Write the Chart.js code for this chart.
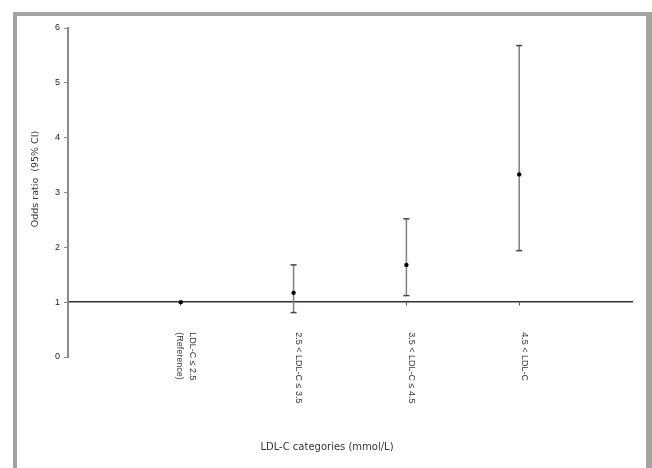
<!DOCTYPE html>
<html>
<head>
<meta charset="utf-8">
<script src="https://cdn.jsdelivr.net/npm/chart.js@4"></script>
<style>
html,body{margin:0;padding:0;background:#fff;}
#wrap{position:absolute;left:0;top:0;width:652px;height:468px;overflow:hidden;}
#frame{position:absolute;left:13px;top:12px;width:629px;height:470px;border:4px solid #a3a3a3;border-bottom:none;border-right-width:6px;}
canvas{position:absolute;left:0;top:0;}
</style>
</head>
<body>
<div id="wrap">
<div id="frame"></div>
<canvas id="c" width="652" height="468"></canvas>
</div>
<script>
const categories = ["LDL-C \u2264 2.5|(Reference)", "2.5 < LDL-C \u2264 3.5", "3.5 < LDL-C \u2264 4.5", "4.5 < LDL-C"];
const oddsRatio = [1.0, 1.17, 1.68, 3.33];
const ciLower = [1.0, 0.81, 1.12, 1.94];
const ciUpper = [1.0, 1.68, 2.52, 5.68];
const yTicks = [0, 1, 2, 3, 4, 5, 6];
const yTitle = 'Odds ratio  (95% CI)';
const xTitle = 'LDL-C categories (mmol/L)';

const whiskerSets = categories.map((c, i) => ({
  type: 'line',
  data: [{x: i + 1, y: ciLower[i]}, {x: i + 1, y: ciUpper[i]}],
  borderColor: '#808080',
  borderWidth: 1.5,
  pointRadius: 0,
  showLine: true,
  order: 3
}));

const capSet = {
  type: 'scatter',
  data: categories.flatMap((c, i) => ciLower[i] === ciUpper[i] ? [] : [{x: i + 1, y: ciLower[i]}, {x: i + 1, y: ciUpper[i]}]),
  pointStyle: 'line',
  pointRadius: 3,
  borderColor: '#444',
  borderWidth: 1.5,
  order: 2
};

const pointSet = {
  type: 'scatter',
  data: categories.map((c, i) => ({x: i + 1, y: oddsRatio[i]})),
  pointStyle: 'circle',
  pointRadius: 2.2,
  backgroundColor: '#000',
  borderColor: '#000',
  borderWidth: 0,
  order: 1
};

const textPlugin = {
  id: 'texts',
  afterDraw(chart) {
    const ctx = chart.ctx;
    const xs = chart.scales.x, ys = chart.scales.y;
    const y0 = ys.getPixelForValue(1);
    ctx.save();
    ctx.fillStyle = '#333';
    ctx.font = '9px "Liberation Sans", Arial, sans-serif';
    ctx.textBaseline = 'middle';
    ctx.textAlign = 'left';
    categories.forEach((c, i) => {
      const parts = c.split('|');
      const px = xs.getPixelForValue(i + 1) + 5;
      const lh = 13;
      const n = parts.length;
      parts.forEach((p, k) => {
        ctx.save();
        ctx.translate(px + (n - 1) * lh / 2 - k * lh, y0 + 30);
        ctx.rotate(Math.PI / 2);
        ctx.fillText(p, 0, 0);
        ctx.restore();
      });
    });
    ctx.font = '10px "DejaVu Sans", sans-serif';
    ctx.textAlign = 'center';
    ctx.fillText(xTitle, 327, 447);
    ctx.save();
    ctx.font = '9.5px "DejaVu Sans", sans-serif';
    ctx.translate(36, 179);
    ctx.rotate(-Math.PI / 2);
    ctx.fillText(yTitle, 0, 0);
    ctx.restore();
    ctx.restore();
  }
};

new Chart(document.getElementById('c'), {
  data: { datasets: [...whiskerSets, capSet, pointSet] },
  options: {
    responsive: false,
    animation: false,
    devicePixelRatio: 1,
    layout: { padding: { left: 30, right: 20, top: 28, bottom: 111 } },
    plugins: { legend: { display: false }, tooltip: { enabled: false } },
    scales: {
      x: {
        type: 'linear',
        min: 0, max: 5,
        position: { y: 1 },
        afterBuildTicks(s) { s.ticks = categories.map((c, i) => ({value: i + 1})); },
        grid: { display: true, drawOnChartArea: false, drawTicks: true, tickLength: 3, color: '#555', lineWidth: 1 },
        border: { display: true, color: '#333', width: 1.5 },
        ticks: { display: false }
      },
      y: {
        type: 'linear',
        min: 0, max: 6,
        afterBuildTicks(s) { s.ticks = yTicks.map(v => ({value: v})); },
        grid: { display: true, drawOnChartArea: false, drawTicks: true, tickLength: 4, color: '#888', lineWidth: 1 },
        border: { display: true, color: '#8a8a8a', width: 2 },
        ticks: { color: '#222', font: { family: '"Liberation Sans", Arial, sans-serif', size: 9 }, padding: 4 },
        afterFit(s) { s.width = 38; }
      }
    }
  },
  plugins: [textPlugin]
});
</script>
</body>
</html>
